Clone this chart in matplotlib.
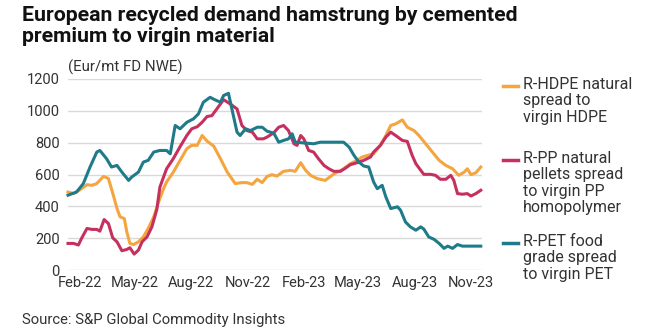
import matplotlib
matplotlib.use("Agg")
import matplotlib.pyplot as plt
import matplotlib.dates as mdates
from matplotlib.lines import Line2D
import pandas as pd

# weekly assessments as (days since 2022-01-12, Eur/mt)
start = pd.Timestamp("2022-01-12")

hdpe_days = [0, 9, 20, 31, 39, 47, 58, 66, 74, 80, 85, 92, 96, 101, 107, 115, 123, 131,
             140, 148, 156, 161, 172, 183, 194, 202, 211, 219, 227, 238, 249, 260, 273,
             284, 292, 301, 309, 317, 325, 333, 341, 352, 363, 371, 380, 388, 396, 407,
             420, 431, 440, 450, 461, 472, 480, 489, 499, 510, 519, 527, 535, 546, 554,
             565, 573, 584, 595, 606, 617, 628, 638, 647, 652, 658, 666, 674]
hdpe_vals = [490, 480, 505, 536, 532, 543, 588, 575, 470, 386, 334, 323, 240, 167, 160, 177,
             208, 261, 334, 428, 511, 553, 615, 689, 762, 783, 783, 845, 810, 778, 699, 615,
             543, 549, 549, 538, 570, 549, 588, 599, 590, 620, 626, 620, 674, 626, 595, 574,
             563, 595, 615, 636, 668, 689, 709, 720, 730, 783, 845, 908, 918, 943, 897, 876,
             845, 793, 741, 689, 657, 636, 595, 615, 636, 599, 611, 647]

pp_days = [0, 9, 17, 22, 31, 39, 47, 52, 59, 66, 73, 80, 88, 96, 101, 108, 115, 121, 129,
           137, 145, 150, 156, 161, 172, 183, 194, 202, 211, 219, 227, 235, 243, 254, 265,
           276, 284, 292, 301, 309, 319, 325, 336, 344, 352, 360, 369, 374, 380, 385, 393,
           401, 409, 418, 426, 434, 445, 453, 461, 472, 483, 494, 499, 510, 519, 527, 535,
           546, 554, 562, 568, 576, 581, 592, 600, 608, 617, 625, 630, 636, 644, 652, 658,
           666, 674]
pp_vals = [167, 167, 157, 198, 261, 255, 255, 244, 317, 292, 202, 177, 121, 129, 140, 100,
           125, 177, 208, 271, 380, 520, 584, 636, 700, 775, 845, 887, 900, 928, 964, 970,
           1012, 1070, 1043, 1012, 908, 876, 866, 824, 824, 835, 862, 897, 908, 876, 793,
           783, 845, 824, 751, 741, 699, 657, 636, 620, 620, 640, 662, 674, 689, 710, 741,
           783, 835, 866, 845, 814, 808, 720, 668, 626, 601, 601, 595, 570, 570, 595, 563,
           480, 476, 480, 465, 480, 501]

pet_days = [0, 14, 25, 36, 47, 52, 63, 71, 80, 88, 99, 104, 115, 123, 131, 140, 150, 161,
            167, 175, 183, 194, 205, 213, 221, 232, 240, 249, 254, 262, 270, 276, 281, 290,
            298, 309, 317, 325, 336, 344, 352, 360, 366, 371, 401, 412, 450, 459, 467, 475,
            483, 491, 499, 505, 513, 519, 527, 538, 543, 551, 559, 568, 576, 581, 589, 598,
            606, 614, 620, 628, 636, 644, 674]
pet_vals = [470, 490, 543, 647, 741, 751, 699, 647, 657, 615, 563, 584, 615, 678, 689, 741,
            751, 751, 730, 908, 887, 928, 950, 981, 1054, 1085, 1069, 1054, 1096, 1110, 970,
            866, 845, 887, 876, 897, 897, 872, 860, 803, 814, 824, 856, 803, 793, 803, 803,
            772, 720, 678, 653, 647, 553, 511, 532, 459, 386, 397, 376, 302, 271, 250, 271,
            257, 208, 192, 167, 136, 150, 136, 160, 150, 150]

labels = ["R-HDPE natural\nspread to\nvirgin HDPE",
          "R-PP natural\npellets spread\nto virgin PP\nhomopolymer",
          "R-PET food\ngrade spread\nto virgin PET"]
colors = ["#F4A53F", "#C5305F", "#1F7A8A"]

plt.rcParams["font.family"] = ["Roboto", "DejaVu Sans"]

fig = plt.figure(figsize=(6.6, 3.32), dpi=100)
ax = fig.add_axes([68 / 660, 1 - 270 / 332, (482 - 68) / 660, (270 - 79) / 332])

series = [(hdpe_days, hdpe_vals), (pp_days, pp_vals), (pet_days, pet_vals)]
for (d, v), c in zip(series, colors):
    dates = start + pd.to_timedelta(d, unit="D")
    ax.plot(dates, v, color=c, lw=2.2, solid_joinstyle="round", clip_on=False)

ax.set_ylim(0, 1200)
ax.set_yticks(range(0, 1201, 200))
ax.set_xlim(start, start + pd.Timedelta(days=676))
ax.xaxis.set_major_locator(mdates.MonthLocator(bymonth=[2, 5, 8, 11]))
ax.xaxis.set_major_formatter(mdates.DateFormatter("%b-%y"))
ax.grid(axis="y", color="#d9d9d9", lw=1)
ax.set_axisbelow(True)
for s in ax.spines.values():
    s.set_visible(False)
ax.tick_params(length=0, labelsize=10.5, colors="#333333")
ax.tick_params(axis="y", pad=6)
ax.tick_params(axis="x", pad=4)

fig.text(22 / 660, 1 - 6 / 332, "European recycled demand hamstrung by cemented\npremium to virgin material",
         fontsize=15.3, fontweight="bold", va="top", ha="left", linespacing=1.15, color="#111111")
fig.text(68 / 660, 1 - 67 / 332, "(Eur/mt FD NWE)", fontsize=10.8, va="center", color="#333333")
fig.text(22 / 660, 1 - 320 / 332, "Source: S&P Global Commodity Insights", fontsize=10.7,
         va="center", color="#333333")

# legend drawn by hand to keep the multi-line labels top-aligned
leg_top = [86, 160, 243]
for lab, c, y in zip(labels, colors, leg_top):
    fig.add_artist(Line2D([503 / 660, 518 / 660], [1 - y / 332] * 2, color=c, lw=2.5,
                          transform=fig.transFigure))
    fig.text(523 / 660, 1 - (y - 9) / 332, lab, fontsize=11.5, va="top", ha="left",
             linespacing=1.12, color="#333333")

fig.savefig("out.png", dpi=100)
